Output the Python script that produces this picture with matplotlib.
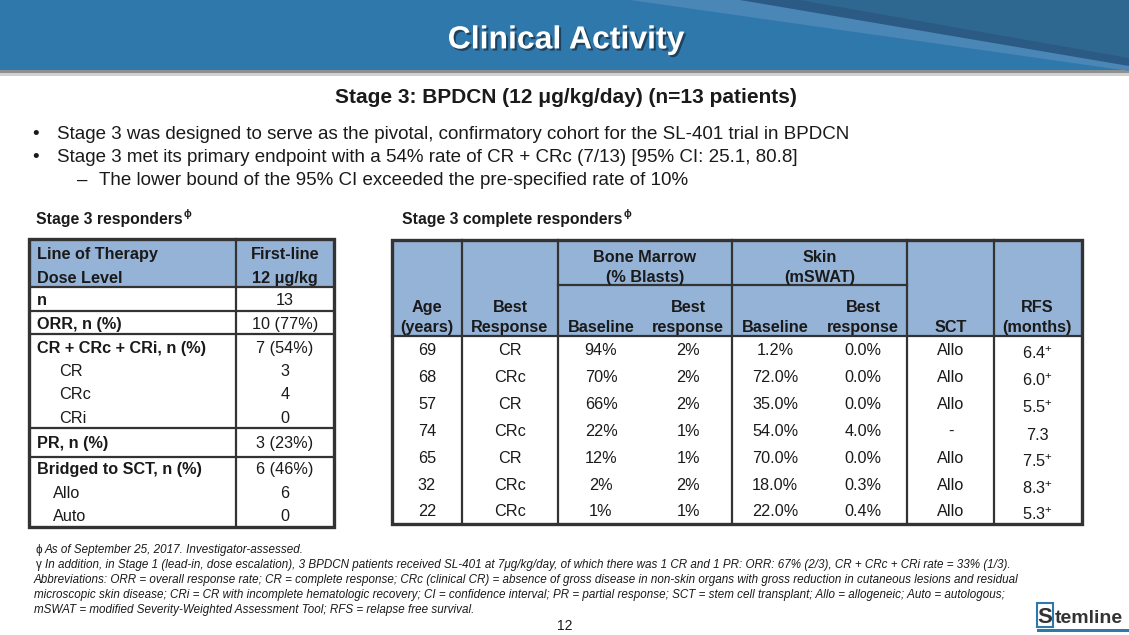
import matplotlib
matplotlib.use("Agg")
import matplotlib.pyplot as plt
from matplotlib.patches import Rectangle, Polygon
import matplotlib.patheffects as pe

plt.rcParams['font.family'] = ['Liberation Sans', 'DejaVu Sans']
plt.rcParams['mathtext.fontset'] = 'custom'
plt.rcParams['mathtext.rm'] = 'Liberation Sans'
plt.rcParams['mathtext.it'] = 'Liberation Sans:italic'
plt.rcParams['mathtext.bf'] = 'Liberation Sans:bold'

# ---------------- data ----------------
title = "Clinical Activity"
subtitle = "Stage 3: BPDCN (12 \u03bcg/kg/day) (n=13 patients)"
bullets = [
    "Stage 3 was designed to serve as the pivotal, confirmatory cohort for the SL-401 trial in BPDCN",
    "Stage 3 met its primary endpoint with a 54% rate of CR + CRc (7/13) [95% CI: 25.1, 80.8]",
]
sub_bullet = "The lower bound of the 95% CI exceeded the pre-specified rate of 10%"

left_header = [("Line of Therapy", "First-line"), ("Dose Level", "12 \u03bcg/kg")]
left_labels = ["n", "ORR, n (%)", "CR + CRc + CRi, n (%)", "CR", "CRc", "CRi",
               "PR, n (%)", "Bridged to SCT, n (%)", "Allo", "Auto"]
left_values = ["13", "10 (77%)", "7 (54%)", "3", "4", "0", "3 (23%)", "6 (46%)", "6", "0"]
left_bold = [True, True, True, False, False, False, True, True, False, False]

ages = [69, 68, 57, 74, 65, 32, 22]
best_resp = ["CR", "CRc", "CR", "CRc", "CR", "CRc", "CRc"]
bm_baseline = [94, 70, 66, 22, 12, 2, 1]
bm_best = [2, 2, 2, 1, 1, 2, 1]
skin_baseline = [1.2, 72.0, 35.0, 54.0, 70.0, 18.0, 22.0]
skin_best = [0.0, 0.0, 0.0, 4.0, 0.0, 0.3, 0.4]
sct = ["Allo", "Allo", "Allo", "-", "Allo", "Allo", "Allo"]
rfs = [6.4, 6.0, 5.5, 7.3, 7.5, 8.3, 5.3]
rfs_ongoing = [True, True, True, False, True, True, True]

footnotes = [
    "As of September 25, 2017. Investigator-assessed.",
    "In addition, in Stage 1 (lead-in, dose escalation), 3 BPDCN patients received SL-401 at 7\u03bcg/kg/day, of which there was 1 CR and 1 PR: ORR: 67% (2/3), CR + CRc + CRi rate = 33% (1/3).",
    "Abbreviations: ORR = overall response rate; CR = complete response; CRc (clinical CR) = absence of gross disease in non-skin organs with gross reduction in cutaneous lesions and residual",
    "microscopic skin disease; CRi = CR with incomplete hematologic recovery; CI = confidence interval; PR = partial response; SCT = stem cell transplant; Allo = allogeneic; Auto = autologous;",
    "mSWAT = modified Severity-Weighted Assessment Tool; RFS = relapse free survival.",
]
footnote_marks = ["\u03d5", "\u03b3", "", "", ""]
page_number = "12"

# ---------------- figure ----------------
W, H = 1129, 635
fig = plt.figure(figsize=(W / 100, H / 100), dpi=100)
ax = fig.add_axes([0, 0, 1, 1])
ax.set_xlim(0, W)
ax.set_ylim(H, 0)
ax.axis('off')

TXT = '#1a1a1a'


def txt(x, yc, s, size, ha='left', weight='normal', style='normal', color=TXT, **kw):
    cap = 0.716 * size * 100 / 72
    return ax.text(x, yc + cap / 2, s, fontsize=size, ha=ha, va='baseline',
                   fontweight=weight, fontstyle=style, color=color, **kw)


# header band
ax.add_patch(Rectangle((0, 70), W, 6, facecolor='#d0d0d0', edgecolor='none', zorder=1))
ax.add_patch(Rectangle((0, 70), W, 2.5, facecolor='#8f8f8f', edgecolor='none', zorder=1))
ax.add_patch(Rectangle((0, 0), W, 70, facecolor='#2f78ab', edgecolor='none', zorder=2))
ax.add_patch(Polygon([(630, 0), (760, 0), (W, 64), (W, 71)], closed=True,
                     facecolor='#4a86b6', edgecolor='none', zorder=3))
ax.add_patch(Polygon([(740, 0), (W, 0), (W, 66)], closed=True,
                     facecolor='#2b5b85', edgecolor='none', zorder=4))
ax.add_patch(Polygon([(800, 0), (W, 0), (W, 58)], closed=True,
                     facecolor='#2e6891', edgecolor='none', zorder=5))
t = txt(566, 37, title, 23, ha='center', weight='bold', color='white', zorder=10)
t.set_path_effects([pe.withSimplePatchShadow(offset=(1.5, -1.5), shadow_rgbFace='#1c3c55', alpha=0.9)])

# subtitle and bullets
txt(566, 96, subtitle, 15, ha='center', weight='bold')
BS = 13.5
for i, b in enumerate(bullets):
    y = 132 + 23 * i
    txt(32, y, "\u2022", BS)
    txt(57, y, b, BS)
txt(77, 178, "\u2013", BS)
txt(99, 178, sub_bullet, BS)

# ---------------- left table ----------------
txt(36, 218, "Stage 3 responders", 11.3, weight='bold')
txt(184, 213, "\u03d5", 7.5, weight='bold')
LX0, LX1, LY0, LY1, LXC = 29, 334, 239, 527, 236
LINE = '#333333'
ax.add_patch(Rectangle((LX0, LY0), LX1 - LX0, 287 - LY0, facecolor='#95b3d7', edgecolor='none', zorder=1))
for yy in [287, 311, 334, 428, 457]:
    ax.plot([LX0, LX1], [yy, yy], color=LINE, lw=1.6, zorder=3, solid_capstyle='butt')
ax.plot([LXC, LXC], [LY0, LY1], color=LINE, lw=1.6, zorder=3)
ax.add_patch(Rectangle((LX0, LY0), LX1 - LX0, LY1 - LY0, facecolor='none', edgecolor=LINE, lw=2.4, zorder=4))
TS = 11.7
for (lab, val), y in zip(left_header, [253, 277]):
    txt(37, y, lab, TS, weight='bold')
    txt(285, y, val, TS, ha='center', weight='bold')
row_y = [299, 323, 347, 370, 393, 417, 442, 468, 492, 515]
indent = [37, 37, 37, 59, 59, 59, 37, 37, 53, 53]
for lab, val, b, y, x in zip(left_labels, left_values, left_bold, row_y, indent):
    txt(x, y, lab, TS, weight='bold' if b else 'normal')
    txt(285, y, val, TS, ha='center')

# ---------------- right table ----------------
txt(402, 218, "Stage 3 complete responders", 11.3, weight='bold')
txt(624, 213, "\u03d5", 7.5, weight='bold')
RX0, RX1, RY0, RY1 = 392, 1082, 240, 524
ax.add_patch(Rectangle((RX0, RY0), RX1 - RX0, 336 - RY0, facecolor='#95b3d7', edgecolor='none', zorder=1))
for xx in [462, 558, 732, 907, 994]:
    ax.plot([xx, xx], [RY0, RY1], color=LINE, lw=1.6, zorder=3)
ax.plot([558, 907], [285, 285], color=LINE, lw=1.6, zorder=3)
ax.plot([RX0, RX1], [336, 336], color=LINE, lw=1.6, zorder=3)
ax.add_patch(Rectangle((RX0, RY0), RX1 - RX0, RY1 - RY0, facecolor='none', edgecolor=LINE, lw=2.4, zorder=4))

txt(645, 256, "Bone Marrow", TS, ha='center', weight='bold')
txt(645, 276, "(% Blasts)", TS, ha='center', weight='bold')
txt(820, 256, "Skin", TS, ha='center', weight='bold')
txt(820, 276, "(mSWAT)", TS, ha='center', weight='bold')
cols = [427, 510, 601, 688, 775, 863, 951, 1037]
hdr_top = ["Age", "Best", "", "Best", "", "Best", "", "RFS"]
hdr_bot = ["(years)", "Response", "Baseline", "response", "Baseline", "response", "SCT", "(months)"]
for x, a, b in zip(cols, hdr_top, hdr_bot):
    if a:
        txt(x, 306, a, TS, ha='center', weight='bold')
    txt(x, 326, b, TS, ha='center', weight='bold')

data_y = [349, 376, 403, 430, 457, 484, 510]
for i, y in enumerate(data_y):
    vals = [str(ages[i]), best_resp[i], f"{bm_baseline[i]}%", f"{bm_best[i]}%",
            f"{skin_baseline[i]:.1f}%", f"{skin_best[i]:.1f}%", sct[i]]
    for x, v in zip(cols[:7], vals):
        txt(x, y, v, TS, ha='center')
    r = f"{rfs[i]:.1f}"
    if rfs_ongoing[i]:
        r = r + r"$^{+}$"
    txt(cols[7], y + 4, r, TS, ha='center')

# ---------------- footnotes ----------------
FS = 8.35
fy = [549, 564, 579, 594, 609]
for m, f, y in zip(footnote_marks, footnotes, fy):
    if m:
        txt(36, y, m, FS)
        txt(45, y, f, FS, style='italic')
    else:
        txt(34, y, f, FS, style='italic')
txt(565, 625, page_number, 10, ha='center')

# logo
ax.add_patch(Rectangle((1037, 603), 16, 24, facecolor='white', edgecolor='#2f78ab', lw=1.5, zorder=5))
txt(1045, 615, "S", 16, ha='center', weight='bold', color='#333333', zorder=6)
txt(1055, 616, "temline", 14, weight='bold', color='#333333', zorder=6)
ax.add_patch(Rectangle((1037, 629), 92, 2.5, facecolor='#2f78ab', edgecolor='none', zorder=5))

fig.savefig("out.png", dpi=100)
